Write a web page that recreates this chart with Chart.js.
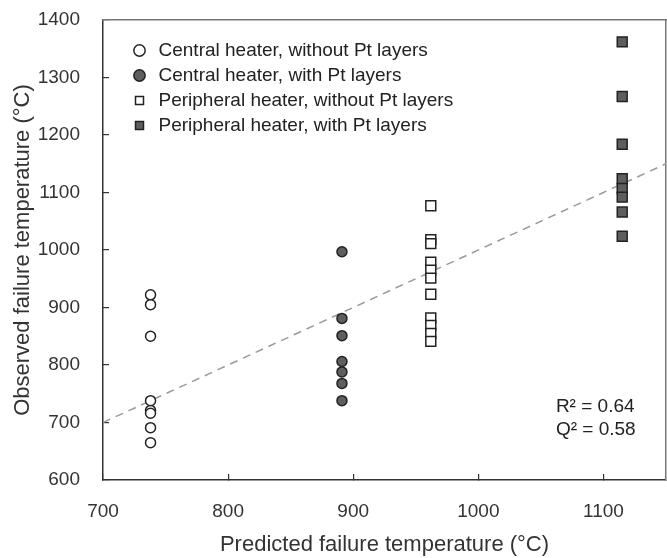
<!DOCTYPE html>
<html>
<head>
<meta charset="utf-8">
<script src="https://cdn.jsdelivr.net/npm/chart.js@4"></script>
<style>
  html, body { margin: 0; padding: 0; background: #fff; }
  #wrap { width: 667px; height: 558px; }
</style>
</head>
<body>
<div id="wrap"><canvas id="scatterdiv"></canvas></div>
<script>
// predicted failure temperature of each group (x)
var groupNames = ["Central heater, without Pt layers", "Central heater, with Pt layers",
                  "Peripheral heater, without Pt layers", "Peripheral heater, with Pt layers"];
var groupPredicted = [738, 891, 962, 1115];

// observed failure temperatures (y)
var centralNoPt = [922, 905, 850, 738, 721, 716, 691, 665];
var centralPt = [997, 881, 851, 806, 788, 768, 738];
var peripheralNoPt = [1077, 1018, 1011, 979, 965, 951, 923, 882, 869, 855, 841];
var peripheralPt = [1362, 1267, 1184, 1124, 1107, 1092, 1066, 1024];

// y = x reference line
var fitRange = [700, 1150];

var statsText = ["R\u00b2 = 0.64", "Q\u00b2 = 0.58"];
var statsX = 1062;
var statsY = [727, 687];

var xTicks = [700, 1150, 100];
var yTicks = [600, 1400, 100];

function toPoints(xv, ys) {
    return ys.map(function (y) { return { x: xv, y: y }; });
}

Chart.defaults.font.family = "'Liberation Sans', Arial, sans-serif";
Chart.defaults.color = "#333";

var legendSpot = {
    id: "legendSpot",
    afterLayout: function (chart) {
        var lg = chart.legend;
        var ca = chart.chartArea;
        lg.left = ca.left + 21;
        lg.right = lg.left + lg.width;
        lg.top = ca.top + 15;
        lg.bottom = ca.bottom;
    }
};

var statsNote = {
    id: "statsNote",
    afterDatasetsDraw: function (chart) {
        var ctx = chart.ctx;
        ctx.save();
        ctx.font = "19px 'Liberation Sans', Arial, sans-serif";
        ctx.fillStyle = "#222";
        ctx.textAlign = "left";
        ctx.textBaseline = "middle";
        for (var i = 0; i < statsText.length; i++) {
            ctx.fillText(statsText[i], chart.scales.x.getPixelForValue(statsX),
                chart.scales.y.getPixelForValue(statsY[i]));
        }
        ctx.restore();
    }
};

function plainNumber(v) { return String(v); }

var dark = "#222";
var fillGray = "#5e5e5e";

new Chart("scatterdiv", {
    type: "scatter",
    data: {
        datasets: [{
            label: groupNames[0],
            data: toPoints(groupPredicted[0], centralNoPt),
            pointStyle: "circle", pointRadius: 5, pointHoverRadius: 5,
            backgroundColor: "#fff", borderColor: dark, borderWidth: 1.5
        }, {
            label: groupNames[1],
            data: toPoints(groupPredicted[1], centralPt),
            pointStyle: "circle", pointRadius: 5, pointHoverRadius: 5,
            backgroundColor: fillGray, borderColor: dark, borderWidth: 1.5
        }, {
            label: groupNames[2],
            data: toPoints(groupPredicted[2], peripheralNoPt),
            pointStyle: "rect", pointRadius: 7, pointHoverRadius: 7,
            backgroundColor: "#fff", borderColor: dark, borderWidth: 1.5
        }, {
            label: groupNames[3],
            data: toPoints(groupPredicted[3], peripheralPt),
            pointStyle: "rect", pointRadius: 7, pointHoverRadius: 7,
            backgroundColor: fillGray, borderColor: dark, borderWidth: 1.5
        }, {
            label: "y = x",
            data: fitRange.map(function (v) { return { x: v, y: v }; }),
            showLine: true, pointRadius: 0, borderColor: "#999",
            borderWidth: 1.5, borderDash: [8, 6], order: 1
        }]
    },
    options: {
        responsive: true,
        maintainAspectRatio: false,
        animation: false,
        layout: { autoPadding: false, padding: { left: 0, right: 1, top: 20, bottom: 0 } },
        plugins: {
            tooltip: { enabled: false },
            legend: {
                position: "chartArea",
                align: "start",
                labels: {
                    usePointStyle: true,
                    boxHeight: 8,
                    padding: 6,
                    color: "#222",
                    font: { size: 19 },
                    filter: function (item) { return item.datasetIndex < 4; }
                }
            }
        },
        scales: {
            x: {
                type: "linear", position: "bottom",
                min: xTicks[0], max: xTicks[1],
                ticks: { stepSize: xTicks[2], includeBounds: false, padding: 26, font: { size: 19 }, color: "#333", callback: plainNumber },
                grid: { drawOnChartArea: false, drawTicks: true, tickLength: -6, color: "#333", lineWidth: 1.2 },
                border: { color: "#333", width: 1.5 },
                title: { display: true, text: "Predicted failure temperature (\u00b0C)", font: { size: 22 }, color: "#333", padding: { top: 0, bottom: 0 } },
                afterFit: function (s) { s.height = 78; s.paddingLeft = 0; s.paddingRight = 0; }
            },
            y: {
                type: "linear", position: "left",
                min: yTicks[0], max: yTicks[1],
                ticks: { stepSize: yTicks[2], includeBounds: false, padding: 29, font: { size: 19 }, color: "#333", callback: plainNumber },
                grid: { drawOnChartArea: false, drawTicks: true, tickLength: -6, color: "#333", lineWidth: 1.2 },
                border: { color: "#333", width: 1.5 },
                title: { display: true, text: "Observed failure temperature (\u00b0C)", font: { size: 22 }, color: "#333", padding: { top: 10, bottom: 0 } },
                afterFit: function (s) { s.width = 103; s.paddingTop = 0; s.paddingBottom = 0; }
            },
            x2: {
                type: "linear", position: "top",
                min: xTicks[0], max: xTicks[1],
                ticks: { display: false },
                grid: { display: false, drawTicks: false },
                border: { display: true, color: "#777", width: 1.5 },
                afterFit: function (s) { s.height = 0; s.paddingLeft = 0; s.paddingRight = 0; }
            },
            y2: {
                type: "linear", position: "right",
                min: yTicks[0], max: yTicks[1],
                ticks: { display: false },
                grid: { display: false, drawTicks: false },
                border: { display: true, color: "#777", width: 1.5 },
                afterFit: function (s) { s.width = 0; s.paddingTop = 0; s.paddingBottom = 0; }
            }
        }
    },
    plugins: [legendSpot, statsNote]
});
</script>
</body>
</html>
